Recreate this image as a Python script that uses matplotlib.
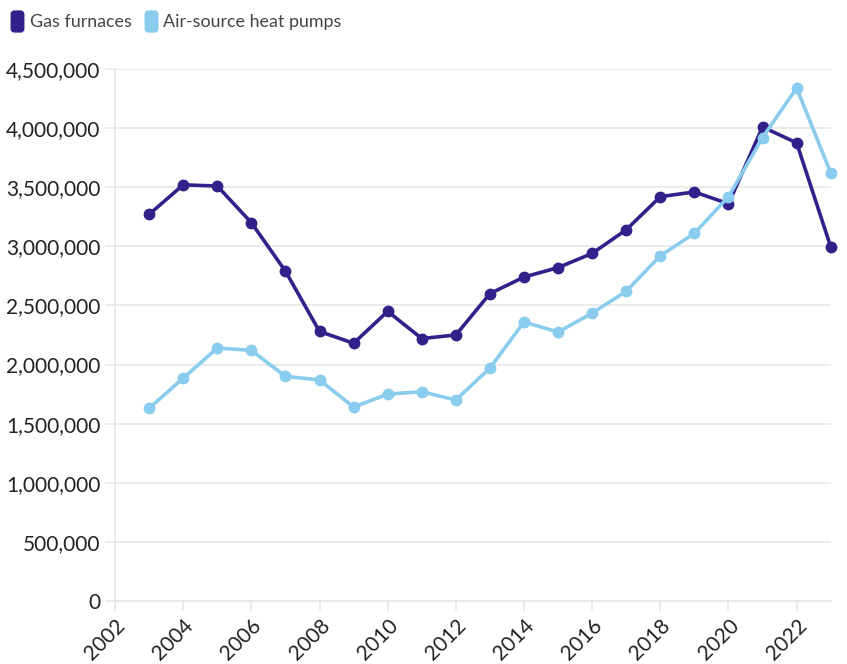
import matplotlib.pyplot as plt
import matplotlib.ticker as mticker
from matplotlib.lines import Line2D
from matplotlib.patches import FancyBboxPatch

plt.rcParams['font.family'] = ['Lato', 'DejaVu Sans']

years = list(range(2003, 2024))
gas_furnaces = [3270000, 3520000, 3510000, 3200000, 2790000, 2280000, 2180000,
                2450000, 2220000, 2250000, 2600000, 2740000, 2820000, 2940000,
                3140000, 3420000, 3460000, 3360000, 4010000, 3875000, 2995000]
heat_pumps = [1630000, 1885000, 2140000, 2120000, 1900000, 1870000, 1640000,
              1750000, 1770000, 1700000, 1970000, 2360000, 2275000, 2435000,
              2620000, 2920000, 3110000, 3420000, 3920000, 4340000, 3620000]

gas_color = "#32218a"
hp_color = "#89ccee"
grid_color = "#e8e8e8"

fig = plt.figure(figsize=(8.47, 6.64), dpi=100)
ax = fig.add_axes([0.1358, 0.0949, 0.845, 0.8012])

ax.plot(years, gas_furnaces, color=gas_color, lw=2.6, marker="o", ms=7.5,
        clip_on=False, zorder=3)
ax.plot(years, heat_pumps, color=hp_color, lw=2.6, marker="o", ms=7.5,
        clip_on=False, zorder=3)

ax.set_xlim(2002, 2023)
ax.set_ylim(0, 4500000)
ax.set_xticks(range(2002, 2023, 2))
ax.set_yticks(range(0, 4500001, 500000))
ax.yaxis.set_major_formatter(mticker.FuncFormatter(lambda v, p: f"{int(v):,}"))

ax.grid(axis="y", color=grid_color, lw=1.2)
ax.set_axisbelow(True)
for s in ["top", "right"]:
    ax.spines[s].set_visible(False)
ax.spines["left"].set_color(grid_color)
ax.spines["left"].set_linewidth(1.2)
ax.spines["bottom"].set_color(grid_color)
ax.spines["bottom"].set_linewidth(1.2)
ax.tick_params(axis="both", colors=grid_color, labelcolor="#222222",
               labelsize=15, length=7, width=1.2)
for lab in ax.get_xticklabels():
    lab.set_rotation(45)
    lab.set_ha("right")
    lab.set_rotation_mode("anchor")

# rounded, slightly tall legend swatches
box = FancyBboxPatch((-0.3, -0.5), 0.6, 1.0,
                     boxstyle="round,pad=0,rounding_size=0.15")
swatch = box.get_path()
handles = [Line2D([], [], ls="none", marker=swatch, ms=15, color=gas_color),
           Line2D([], [], ls="none", marker=swatch, ms=15, color=hp_color)]
fig.legend(handles, ["Gas furnaces", "Air-source heat pumps"],
           loc="upper left", bbox_to_anchor=(-0.006, 1.003), ncol=2,
           frameon=False, fontsize=12.9, handlelength=0.7, handletextpad=0.35,
           columnspacing=0.7, labelcolor="#444444")

fig.savefig("out.png", dpi=100)
